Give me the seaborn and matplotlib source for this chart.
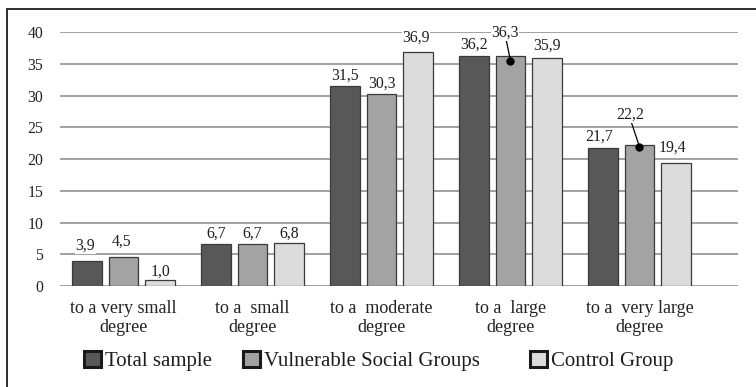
import matplotlib
matplotlib.use("Agg")
import matplotlib.pyplot as plt
import matplotlib.transforms as mtransforms
from matplotlib.lines import Line2D
from matplotlib.patches import Patch
import pandas as pd
import seaborn as sns

# ---- data -----------------------------------------------------------------
categories = [
    "to a very small\ndegree",
    "to a  small\ndegree",
    "to a  moderate\ndegree",
    "to a  large\ndegree",
    "to a  very large\ndegree",
]
series = ["Total sample", "Vulnerable Social Groups", "Control Group"]
total_sample = [3.9, 6.7, 31.5, 36.2, 21.7]
vulnerable_groups = [4.5, 6.7, 30.3, 36.3, 22.2]
control_group = [1.0, 6.8, 36.9, 35.9, 19.4]
y_ticks = [0, 5, 10, 15, 20, 25, 30, 35, 40]

values = [total_sample, vulnerable_groups, control_group]
colors = ["#585858", "#a3a3a3", "#dcdcdc"]

df = pd.DataFrame(
    [(cat, name, v) for name, vals in zip(series, values) for cat, v in zip(categories, vals)],
    columns=["degree", "group", "percent"],
)

# ---- style ----------------------------------------------------------------
sns.set_style("white")
plt.rcParams["font.family"] = ["Liberation Serif", "DejaVu Serif"]
plt.rcParams["text.color"] = "#1e1e1e"

W, H = 756, 387
fig = plt.figure(figsize=(W / 100, H / 100), dpi=100)
ax = fig.add_axes([60 / W, 1 - 286 / H, (738 - 60) / W, (286 - 32.3) / H])

sns.barplot(
    data=df, x="degree", y="percent", hue="group",
    order=categories, hue_order=series, palette=colors,
    width=0.85, gap=0.2, edgecolor="#3a3a3a", linewidth=0.9,
    errorbar=None, legend=False, ax=ax, zorder=3,
)

ax.set_xlim(-0.492, 4.764)
ax.set_ylim(0, 40)
ax.set_yticks(y_ticks)
ax.set_axisbelow(True)
ax.yaxis.grid(True, color="#878787", linewidth=1.1)
ax.xaxis.grid(False)
for s in ax.spines.values():
    s.set_visible(False)
ax.set_xlabel("")
ax.set_ylabel("")
ax.tick_params(axis="y", length=0, pad=12, labelsize=11.3, labelcolor="#222222")
ax.tick_params(axis="x", length=0, pad=10, labelsize=13, labelcolor="#222222")
ax.set_xticks(range(len(categories)))
ax.set_xticklabels(categories, linespacing=1.15)

# ---- value labels ---------------------------------------------------------
# pixel offsets (dx, dy) from the top of each bar to the label baseline
label_offsets = [
    [(-1.5, 12), (0, 6.2), (0, 7), (0, 8.2), (-4, 7.7)],
    [(-2, 11.5), (0, 6.2), (0, 6.2), None, None],
    [(0, 3.7), (0, 5.6), (-2, 10.4), (0, 9.1), (-4, 11.3)],
]
# labels tied to their bar by a leader line and a dot: (dot drop, dx, dy)
leader_labels = {(1, 3): (5, -5.5, 24.3), (1, 4): (1.4, -9.3, 27.7)}

box = dict(boxstyle="square,pad=0.02", facecolor="white", edgecolor="none")
fmt = lambda v: f"{v:.1f}".replace(".", ",")

for si, (container, vals) in enumerate(zip(ax.containers, values)):
    for ci, (bar, v) in enumerate(zip(container, vals)):
        x = bar.get_x() + bar.get_width() / 2
        if (si, ci) in leader_labels:
            drop, dx, dy = leader_labels[(si, ci)]
            tr = mtransforms.offset_copy(ax.transData, fig=fig, x=0, y=-drop, units="dots")
            ax.plot([x], [v], "o", ms=5, color="black", transform=tr, zorder=6)
            ax.annotate(
                fmt(v), xy=(x, v), xycoords=tr, xytext=(dx, dy),
                textcoords="offset pixels", ha="center", va="baseline",
                fontsize=11.3, bbox=box, zorder=5,
                arrowprops=dict(arrowstyle="-", color="black", lw=0.9,
                                shrinkA=0, shrinkB=0, relpos=(0.55, 0.0)),
            )
        else:
            dx, dy = label_offsets[si][ci]
            # kept under the bars so the white backing only breaks gridlines
            ax.annotate(
                fmt(v), xy=(x, v), xytext=(dx, dy), textcoords="offset pixels",
                ha="center", va="baseline", fontsize=11.3, bbox=box, zorder=2,
            )

# ---- legend ---------------------------------------------------------------
legend_x = [83.5, 242.5, 529.5]
for name, c, lx in zip(series, colors, legend_x):
    h = Patch(facecolor=c, edgecolor="#1a1a1a", linewidth=2.2)
    fig.legend(
        handles=[h], labels=[name], loc="center left",
        bbox_to_anchor=(lx / W, 1 - 361 / H), frameon=False, fontsize=15,
        handlelength=0.82, handleheight=0.82, handletextpad=0.2,
        borderpad=0, borderaxespad=0,
    )

# ---- outer frame ----------------------------------------------------------
fig.add_artist(Line2D([7 / W, 7 / W], [0, 1 - 9 / H], color="#2e2e2e", lw=1.4))
fig.add_artist(Line2D([7 / W, 1], [1 - 9 / H, 1 - 9 / H], color="#2e2e2e", lw=1.4))

fig.savefig("out.png", dpi=100, facecolor="white")
